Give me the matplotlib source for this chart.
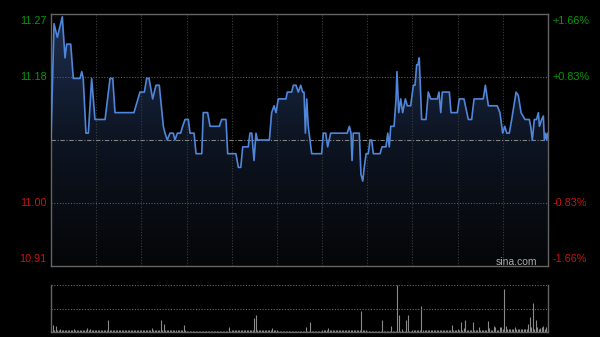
import numpy as np
import matplotlib.pyplot as plt
from matplotlib.colors import LinearSegmentedColormap

plt.rcParams['font.family'] = ['Liberation Sans', 'DejaVu Sans']

prev_close = 11.09
price_labels = ['11.27', '11.18', '11.00', '10.91']
pct_levels = [0.0166, 0.0083, -0.0083, -0.0166]
pct_labels = ['+1.66%', '+0.83%', '-0.83%', '-1.66%']

# intraday trace: minute from open (0..330) and price
minutes = [0, 2.0, 4.2, 7.5, 9.3, 10.4, 13.1, 14.8, 19.3, 20.4, 21.4, 23.2, 24.8, 27.0,
           29.2, 35.9, 39.2, 41.0, 42.5, 55.1, 56.4, 59.1, 62.0, 63.5, 65.1, 67.5,
           69.7, 71.9, 74.6, 75.7, 77.2, 79.0, 81.2, 82.3, 83.9, 86.1, 87.4, 89.0,
           91.2, 92.3, 95.0, 96.3, 100.1, 101.1, 104.0, 105.6, 111.8, 113.3, 116.2,
           117.3, 122.8, 124.4, 126.0, 127.3, 131.0, 132.1, 133.3, 134.8, 136.1,
           137.0, 145.0, 146.5, 148.1, 149.4, 150.9, 156.0, 156.9, 159.8, 160.9,
           162.7, 164.2, 165.8, 167.1, 168.0, 168.9, 169.8, 170.8, 173.1, 179.7,
           180.8, 182.4, 183.7, 185.7, 196.7, 198.1, 199.2, 199.9, 200.7, 204.7,
           205.8, 207.0, 208.0, 209.2, 210.7, 211.8, 212.9, 214.0, 218.5, 219.8,
           222.4, 223.6, 224.6, 225.6, 227.8, 229.1, 229.7, 230.9, 232.2, 233.5,
           235.3, 236.6, 238.8, 240.6, 241.7, 242.8, 243.7, 244.5, 246.1, 249.0,
           250.5, 252.1, 256.5, 257.6, 258.8, 259.8, 264.5, 265.6, 269.8, 271.1,
           274.2, 277.1, 279.3, 280.9, 287.0, 288.4, 290.4, 296.3, 298.1, 299.9,
           301.3, 302.6, 304.3, 305.9, 308.8, 310.3, 312.1, 314.7, 317.6, 318.5,
           319.6, 320.9, 322.4, 323.6, 324.3, 325.8, 326.9, 327.6, 328.5, 329.1, 330]
prices = [11.09, 11.26, 11.24, 11.27, 11.21, 11.23, 11.23, 11.18, 11.18, 11.19, 11.18,
          11.10, 11.10, 11.18, 11.12, 11.12, 11.18, 11.18, 11.13, 11.13, 11.14, 11.16,
          11.16, 11.18, 11.18, 11.15, 11.17, 11.17, 11.11, 11.10, 11.09, 11.10, 11.10,
          11.09, 11.10, 11.10, 11.11, 11.12, 11.12, 11.10, 11.10, 11.07, 11.07, 11.13,
          11.13, 11.11, 11.11, 11.12, 11.12, 11.07, 11.07, 11.05, 11.05, 11.08, 11.08,
          11.10, 11.10, 11.06, 11.10, 11.09, 11.09, 11.13, 11.14, 11.13, 11.15, 11.15,
          11.16, 11.16, 11.17, 11.17, 11.16, 11.17, 11.16, 11.16, 11.10, 11.15, 11.11,
          11.07, 11.07, 11.10, 11.10, 11.08, 11.10, 11.10, 11.11, 11.10, 11.06, 11.10,
          11.10, 11.04, 11.03, 11.05, 11.07, 11.07, 11.09, 11.09, 11.07, 11.07, 11.08,
          11.08, 11.10, 11.08, 11.11, 11.11, 11.15, 11.19, 11.13, 11.15, 11.13, 11.15,
          11.14, 11.14, 11.17, 11.17, 11.20, 11.20, 11.21, 11.12, 11.12, 11.16, 11.15,
          11.15, 11.16, 11.13, 11.16, 11.16, 11.13, 11.13, 11.15, 11.15, 11.12, 11.12,
          11.15, 11.15, 11.17, 11.14, 11.14, 11.13, 11.10, 11.11, 11.10, 11.10, 11.12,
          11.16, 11.155, 11.13, 11.12, 11.12, 11.11, 11.09, 11.12, 11.12, 11.13, 11.11,
          11.12, 11.125, 11.09, 11.10, 11.09, 11.10]

# volume: quiet level per half hour, then the spikes on top
quiet_vol = [2.0, 2.0, 1.6, 1.5, 1.6, 1.5, 1.6, 1.5, 1.6, 2.0, 3.0]
spike_min = [1, 3, 6, 10, 15, 24, 26, 38, 67, 73, 75, 78, 88, 118, 127, 135, 136, 141,
             147, 150, 169, 172, 184, 206, 220, 226, 230, 231, 233, 236, 237, 243, 246,
             255, 266, 270, 272, 274, 275, 280, 284, 290, 291, 294, 295, 298, 299, 301,
             302, 308, 311, 315, 317, 318, 319, 320, 322, 323, 325, 326, 327, 329]
spike_vol = [7, 6, 3, 2, 3, 4.5, 3, 11.7, 4, 12.3, 8, 2.5, 6.7, 4.7, 2.5, 14, 17, 2.5,
             4, 2.5, 5, 9.7, 4, 20.7, 12.3, 5.7, 47, 17, 3, 12.3, 17.3, 2, 26.3,
             2, 6.7, 3, 10.3, 4, 11.7, 9.7, 5, 11.3, 4, 5.7, 5, 5, 5, 43,
             6, 5, 3, 3.5, 8.3, 15, 5, 29, 12.3, 5, 4, 5.5, 6, 5]

vols = np.array([quiet_vol[min(m // 30, 10)] for m in range(331)], dtype=float)
vols[spike_min] = spike_vol

green = '#069906'
red = '#cc1010'
frame = '#646464'

fig = plt.figure(figsize=(6, 3.37), dpi=100, facecolor='black')
ax = fig.add_axes([51 / 600, 1 - 266 / 337, 497 / 600, 252 / 337], facecolor='black')
axv = fig.add_axes([51 / 600, 1 - 332 / 337, 497 / 600, 47 / 337], facecolor='black')

ymin = prev_close * (1 - 0.0166)
ymax = prev_close * (1 + 0.0166)
ax.set_xlim(0, 330)
ax.set_ylim(ymin, ymax)

# gradient fill under the line
grad = LinearSegmentedColormap.from_list('g', ['#050607', '#0d1422', '#1e2f50'])
fill = ax.fill_between(minutes, prices, ymin, color='none')
img = ax.imshow(np.linspace(0, 1, 256).reshape(-1, 1), cmap=grad, aspect='auto',
                origin='lower', extent=[0, 330, ymin, ymax], zorder=1)
img.set_clip_path(fill.get_paths()[0], transform=ax.transData)
ax.plot(minutes, prices, color='#4f86d9', lw=1.2, zorder=4)

for m in range(30, 330, 30):
    ax.axvline(m, color='#3c3c3c', lw=0.8, ls=(0, (1, 1.5)), zorder=2)
for p in [0.0083, -0.0083]:
    ax.axhline(prev_close * (1 + p), color='#5a5a5a', lw=0.8, ls=(0, (1, 1.5)), zorder=2)
ax.axhline(prev_close, color='#808080', lw=0.8, ls=(0, (4, 1.5, 1, 1.5)), zorder=3)

ax.set_xticks([])
ax.set_yticks([])
for s in ax.spines.values():
    s.set_color(frame)
    s.set_linewidth(1)

ytr = ax.get_yaxis_transform()
vas = ['top', 'center', 'center', 'bottom']
for lab, p, pl, va in zip(price_labels, pct_levels, pct_labels, vas):
    c = green if p > 0 else red
    y = prev_close * (1 + p)
    off = -1.5 if va == 'top' else (1.5 if va == 'bottom' else 0)
    ax.annotate(lab, (0, y), xycoords=ytr, xytext=(-3, off), textcoords='offset points',
                ha='right', va=va, color=c, fontsize=7.8)
    ax.annotate(pl, (1, y), xycoords=ytr, xytext=(3.5, off), textcoords='offset points',
                ha='left', va=va, color=c, fontsize=7.8)

ax.text(0.978, 0.016, 'sina.com', transform=ax.transAxes, ha='right', va='center',
        color='#a8a8a8', fontsize=7.5, zorder=5)

# volume panel
axv.set_xlim(0, 330)
axv.set_ylim(0, 47)
axv.vlines(np.arange(331), 0, vols, color='#8a8a8a', lw=0.8)
axv.axhline(47, color='#6a6a6a', lw=0.8, ls=(0, (1, 1.5)))
axv.axhline(23.5, color='#6a6a6a', lw=0.8, ls=(0, (1, 1.5)))
axv.set_xticks([])
axv.set_yticks([])
for k, s in axv.spines.items():
    s.set_color(frame)
    s.set_linewidth(1)
axv.spines['top'].set_visible(False)

fig.savefig('out.png', dpi=100, facecolor='black')
